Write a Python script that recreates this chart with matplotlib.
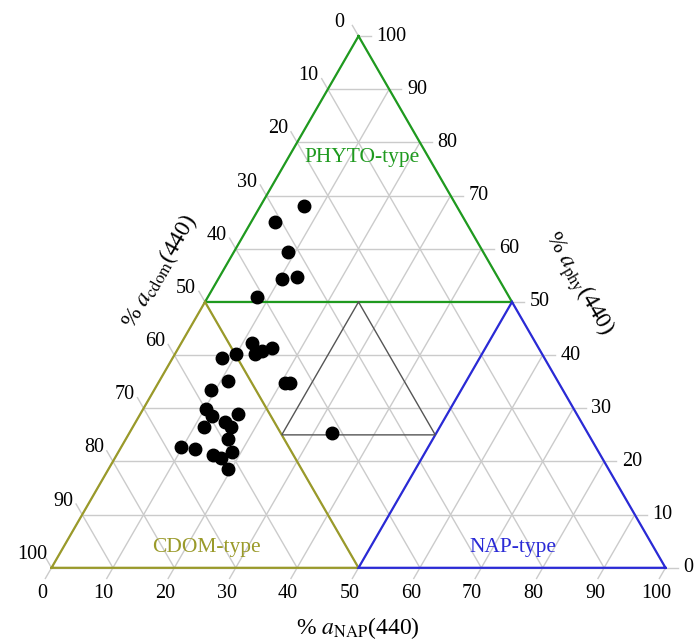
import numpy as np
import matplotlib
matplotlib.use("Agg")
import matplotlib.pyplot as plt

plt.rcParams['font.family'] = ['Liberation Serif', 'DejaVu Serif']
plt.rcParams['mathtext.fontset'] = 'stix'

# Data: percentages (phy, nap); cdom = 100 - phy - nap
phy = [68.1, 65.0, 59.3, 54.3, 54.6, 50.9,
       42.2, 41.4, 40.8, 40.2, 40.3, 39.5, 35.2, 33.4, 34.7, 34.7,
       29.8, 28.6, 28.9, 27.5, 26.4, 26.4, 24.2, 25.3, 22.7, 22.3,
       21.7, 21.2, 20.6, 18.6]
nap = [7.0, 3.9, 8.8, 10.4, 12.7, 8.0,
       11.5, 15.2, 13.8, 13.1, 9.9, 8.0, 11.1, 9.2, 20.7, 21.5,
       10.3, 11.8, 16.0, 14.5, 16.1, 11.7, 16.6, 33.0, 9.7, 12.2,
       18.5, 15.7, 17.3, 19.4]
ticks = [0, 10, 20, 30, 40, 50, 60, 70, 80, 90, 100]
tick_labels = [str(t) for t in ticks]

S3 = np.sqrt(3) / 2


def xy(p, n):
    p = np.asarray(p, float)
    n = np.asarray(n, float)
    return n + p / 2, p * S3


fig = plt.figure(figsize=(6.94, 6.44), dpi=100)
ax = fig.add_axes([0, 0, 1, 1])
ax.set_xlim(-8.39, 104.64)
ax.set_ylim(-12.41, 92.48)
ax.axis('off')

grid_c = '#cbcbcb'
tl = 2.0  # tick length
for k in ticks:
    x0, y0 = xy(k, 0)
    x1, y1 = xy(k, 100 - k)
    ax.plot([x0, x1 + tl], [y0, y1], color=grid_c, lw=1, zorder=1)
    x0, y0 = xy(0, k)
    x1, y1 = xy(100 - k, k)
    ax.plot([x0 - 0.5 * tl, x1], [y0 - S3 * tl, y1], color=grid_c, lw=1, zorder=1)
    x0, y0 = xy(100 - k, 0)
    x1, y1 = xy(0, 100 - k)
    ax.plot([x0 - 0.5 * tl, x1], [y0 + S3 * tl, y1], color=grid_c, lw=1, zorder=1)

green = '#1f9a1f'
olive = '#9a9a2a'
blue = '#2a2ad6'
inner = '#555555'


def tri(pts, color, lw):
    ps = [p for p, n in pts] + [pts[0][0]]
    ns = [n for p, n in pts] + [pts[0][1]]
    x, y = xy(ps, ns)
    ax.plot(x, y, color=color, lw=lw, zorder=2, solid_joinstyle='miter')


tri([(100, 0), (50, 0), (50, 50)], green, 1.6)
tri([(0, 0), (50, 0), (0, 50)], olive, 1.6)
tri([(0, 100), (50, 50), (0, 50)], blue, 1.6)
tri([(50, 25), (25, 25), (25, 50)], inner, 1.0)

px, py = xy(phy, nap)
ax.plot(px, py, 'o', color='black', ms=9, zorder=3)

fs = 14.5
for t, lab in zip(ticks, tick_labels):
    x, y = xy(0, t)
    ax.text(x - 1.5, y - 4.2, lab, ha='center', va='center', fontsize=fs)
for t, lab in zip(ticks, tick_labels):
    x, y = xy(100 - t, 0)
    ax.text(x - 3.1, y + 2.2, lab, ha='center', va='center', fontsize=fs)
for t, lab in zip(ticks, tick_labels):
    x, y = xy(t, 100 - t)
    ax.text(x + 2.9, y, lab, ha='left', va='center', fontsize=fs)

ax.text((358 - 51.5) / 6.14, (567.8 - 628) / 6.14, r'% $a_{\rm NAP}$(440)',
        ha='center', va='center', fontsize=17)
ax.text((160 - 51.5) / 6.14, (567.8 - 271) / 6.14, r'% $a_{\rm cdom}$(440)',
        ha='center', va='center', fontsize=17, rotation=60,
        rotation_mode='anchor')
ax.text((578 - 51.5) / 6.14, (567.8 - 284) / 6.14, r'% $a_{\rm phy}$(440)',
        ha='center', va='center', fontsize=17, rotation=-60,
        rotation_mode='anchor')

ax.text((362 - 51.5) / 6.14, (567.8 - 157) / 6.14, 'PHYTO-type', color=green,
        ha='center', va='center', fontsize=15.5)
ax.text((206 - 51.5) / 6.14, (567.8 - 547) / 6.14, 'CDOM-type', color=olive,
        ha='center', va='center', fontsize=15.5)
ax.text((513 - 51.5) / 6.14, (567.8 - 547) / 6.14, 'NAP-type', color=blue,
        ha='center', va='center', fontsize=15.5)

fig.savefig('out.png', dpi=100)
